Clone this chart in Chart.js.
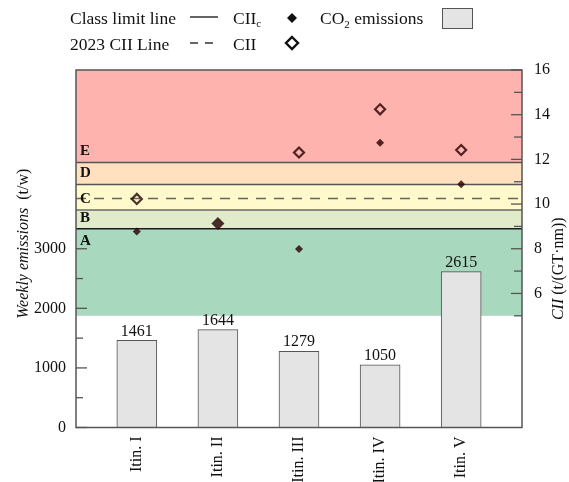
<!DOCTYPE html>
<html>
<head>
<meta charset="utf-8">
<script src="https://cdn.jsdelivr.net/npm/chart.js@4/dist/chart.umd.min.js"></script>
<style>
  html, body { margin: 0; padding: 0; background: #fff; }
  #wrap { position: relative; width: 569px; height: 482px; overflow: hidden; }
  #chart { position: absolute; left: 0; top: 0; }
  #legend { position: absolute; left: 0; top: 0; }
  #legend text { font-family: 'Liberation Serif', 'Times New Roman', serif; font-size: 17.5px; fill: #111; }
</style>
</head>
<body>
<div id="wrap">
  <canvas id="chart" width="569" height="482"></canvas>
  <svg id="legend" width="569" height="62" xmlns="http://www.w3.org/2000/svg">
    <text x="70" y="24">Class limit line</text>
    <line x1="190" y1="17" x2="218" y2="17" stroke="#111" stroke-width="1.3"/>
    <text x="233" y="24">CII<tspan font-size="11" dy="3">c</tspan></text>
    <path d="M292 13 L297 18 L292 23 L287 18 Z" fill="#111"/>
    <text x="320" y="24">CO<tspan font-size="11" dy="4">2</tspan><tspan dy="-4"> emissions</tspan></text>
    <rect x="442.5" y="8.5" width="30" height="20" fill="#e4e4e4" stroke="#555" stroke-width="1"/>
    <text x="70" y="50">2023 CII Line</text>
    <line x1="190" y1="43" x2="198" y2="43" stroke="#111" stroke-width="1.3"/>
    <line x1="205" y1="43" x2="213" y2="43" stroke="#111" stroke-width="1.3"/>
    <text x="233" y="50">CII</text>
    <path d="M292 37 L298 43 L292 49 L286 43 Z" fill="none" stroke="#111" stroke-width="2.4"/>
  </svg>
</div>
<script>
// Itineraries and their weekly CO2 emissions (t/w)
const itineraries = ['Itin. I', 'Itin. II', 'Itin. III', 'Itin. IV', 'Itin. V'];
const weeklyEmissions = [1461, 1644, 1279, 1050, 2615];

// Carbon intensity indicator, t/(GT·nm)
const ciiAttained = [10.23, 9.13, 12.31, 14.24, 12.42];
const ciiCorrected = [8.77, 9.13, 7.99, 12.74, 10.89];

// Rating classes and their limits on the CII axis
const classNames = ['A', 'B', 'C', 'D', 'E'];
const classBounds = [5, 8.9, 9.73, 10.88, 11.86, 16];
const cii2023 = 10.25;

// Axis ticks
const emissionTicks = [0, 1000, 2000, 3000];
const emissionMinorTicks = [500, 1500, 2500];
const ciiTicks = [6, 8, 10, 12, 14, 16];
const ciiMinorTicks = [5, 7, 9, 11, 13, 15];

const SERIF = "'Liberation Serif', 'Times New Roman', serif";
const bandColors = ['#a8d8bd', '#e1ebca', '#fff9cc', '#ffe0bf', '#ffb3ae'];
const limitColors = ['#1a1a1a', '#6a6a6a', '#555555', '#555555'];
const markColor = 'rgba(40, 4, 4, 0.82)';

const bandsPlugin = {
  id: 'bands',
  beforeDatasetsDraw(chart) {
    const ctx = chart.ctx;
    const yC = chart.scales.yCii;
    const { left, right } = chart.chartArea;
    ctx.save();
    for (let i = 0; i < classNames.length; i++) {
      const yTop = yC.getPixelForValue(classBounds[i + 1]);
      const yBot = yC.getPixelForValue(classBounds[i]);
      ctx.fillStyle = bandColors[i];
      ctx.fillRect(left, yTop, right - left, yBot - yTop);
    }
    // class limit lines
    for (let i = 1; i < classBounds.length - 1; i++) {
      const y = yC.getPixelForValue(classBounds[i]);
      ctx.strokeStyle = limitColors[i - 1];
      ctx.lineWidth = 1.5;
      ctx.beginPath();
      ctx.moveTo(left, y);
      ctx.lineTo(right, y);
      ctx.stroke();
    }
    // 2023 CII line
    const yd = yC.getPixelForValue(cii2023);
    ctx.strokeStyle = '#666';
    ctx.lineWidth = 1.5;
    ctx.setLineDash([10, 8]);
    ctx.beginPath();
    ctx.moveTo(left, yd);
    ctx.lineTo(right, yd);
    ctx.stroke();
    ctx.setLineDash([]);
    // class letters
    ctx.fillStyle = '#111';
    ctx.font = 'bold 15px ' + SERIF;
    ctx.textAlign = 'left';
    ctx.textBaseline = 'middle';
    classNames.forEach((name, i) => {
      let y;
      if (i === 0) y = yC.getPixelForValue(classBounds[1]) + 12;
      else y = yC.getPixelForValue(classBounds[i]) - 11;
      ctx.fillText(name, left + 4, y);
    });
    ctx.restore();
  }
};

const framePlugin = {
  id: 'frame',
  afterDatasetsDraw(chart) {
    const ctx = chart.ctx;
    const { left, right, top, bottom } = chart.chartArea;
    const yE = chart.scales.yEm;
    const yC = chart.scales.yCii;
    ctx.save();
    // bar value labels
    const meta = chart.getDatasetMeta(2);
    ctx.fillStyle = '#111';
    ctx.font = '16px ' + SERIF;
    ctx.textAlign = 'center';
    ctx.textBaseline = 'bottom';
    meta.data.forEach((bar, i) => {
      ctx.fillText(String(weeklyEmissions[i]), bar.x, bar.y - 1);
    });
    // inward tick marks
    ctx.strokeStyle = '#555';
    ctx.lineWidth = 1.3;
    const tick = (x0, x1, y) => { ctx.beginPath(); ctx.moveTo(x0, y); ctx.lineTo(x1, y); ctx.stroke(); };
    emissionTicks.forEach(v => tick(left, left + 11, yE.getPixelForValue(v)));
    emissionMinorTicks.forEach(v => tick(left, left + 7, yE.getPixelForValue(v)));
    ciiTicks.forEach(v => tick(right - 11, right, yC.getPixelForValue(v)));
    ciiMinorTicks.forEach(v => tick(right - 8, right, yC.getPixelForValue(v)));
    // frame
    ctx.strokeStyle = '#555';
    ctx.lineWidth = 1.5;
    ctx.strokeRect(left, top, right - left, bottom - top);
    ctx.restore();
  },
  afterDraw(chart) {
    const ctx = chart.ctx;
    const { top, bottom } = chart.chartArea;
    const cy = (top + bottom) / 2;
    const drawTitle = (x, y, parts) => {
      ctx.save();
      ctx.translate(x, y);
      ctx.rotate(-Math.PI / 2);
      ctx.fillStyle = '#111';
      ctx.textBaseline = 'middle';
      ctx.textAlign = 'left';
      let total = 0;
      parts.forEach(p => { ctx.font = p.font; total += ctx.measureText(p.text).width; });
      let cx = -total / 2;
      parts.forEach(p => { ctx.font = p.font; ctx.fillText(p.text, cx, 0); cx += ctx.measureText(p.text).width; });
      ctx.restore();
    };
    drawTitle(24, cy - 5, [
      { text: 'Weekly emissions', font: 'italic 16px ' + SERIF },
      { text: '  (t/w)', font: '16px ' + SERIF }
    ]);
    drawTitle(559, cy + 20, [
      { text: 'CII', font: 'italic 16px ' + SERIF },
      { text: ' (t/(GT·nm))', font: '16px ' + SERIF }
    ]);
  }
};

const tickFont = { family: SERIF, size: 16 };

new Chart(document.getElementById('chart'), {
  type: 'bar',
  data: {
    datasets: [
      {
        type: 'line',
        label: 'CII',
        data: ciiAttained.map((v, i) => ({ x: i + 1, y: v })),
        yAxisID: 'yCii',
        showLine: false,
        pointStyle: 'rectRot',
        pointRadius: 5,
        pointBorderWidth: 2.2,
        pointBackgroundColor: 'rgba(0,0,0,0)',
        pointBorderColor: markColor,
        order: 0
      },
      {
        type: 'line',
        label: 'CIIc',
        data: ciiCorrected.map((v, i) => ({ x: i + 1, y: v })),
        yAxisID: 'yCii',
        showLine: false,
        pointStyle: 'rectRot',
        pointRadius: 4,
        pointBorderWidth: 0,
        pointBackgroundColor: markColor,
        pointBorderColor: markColor,
        order: 1
      },
      {
        type: 'bar',
        label: 'CO2 emissions',
        data: weeklyEmissions.map((v, i) => ({ x: i + 1, y: v })),
        yAxisID: 'yEm',
        backgroundColor: '#e4e4e4',
        borderColor: '#555',
        borderWidth: 1,
        borderSkipped: 'bottom',
        barThickness: 40,
        order: 2
      }
    ]
  },
  options: {
    responsive: false,
    animation: false,
    layout: { padding: { top: 70 } },
    plugins: { legend: { display: false }, tooltip: { enabled: false } },
    scales: {
      x: {
        type: 'linear',
        min: 0.25,
        max: 5.75,
        offset: false,
        grid: { display: false },
        border: { display: false },
        afterBuildTicks: s => { s.ticks = itineraries.map((_, i) => ({ value: i + 1 })); },
        afterFit: s => { s.height = 54.5; },
        ticks: {
          minRotation: 90,
          maxRotation: 90,
          autoSkip: false,
          padding: 1,
          color: '#111',
          font: tickFont,
          callback: v => itineraries[v - 1] ?? ''
        }
      },
      yEm: {
        type: 'linear',
        position: 'left',
        min: 0,
        max: 6000,
        grid: { display: false, drawTicks: false },
        border: { display: false },
        afterBuildTicks: s => { s.ticks = emissionTicks.map(v => ({ value: v })); },
        afterFit: s => { s.width = 76; },
        ticks: { padding: 10, color: '#111', font: tickFont, callback: v => String(v) }
      },
      yCii: {
        type: 'linear',
        position: 'right',
        min: 0,
        max: 16,
        grid: { display: false, drawTicks: false },
        border: { display: false },
        afterBuildTicks: s => { s.ticks = ciiTicks.map(v => ({ value: v })); },
        afterFit: s => { s.width = 47; },
        ticks: { padding: 12, color: '#111', font: tickFont, callback: v => String(v) }
      }
    }
  },
  plugins: [bandsPlugin, framePlugin]
});
</script>
</body>
</html>
